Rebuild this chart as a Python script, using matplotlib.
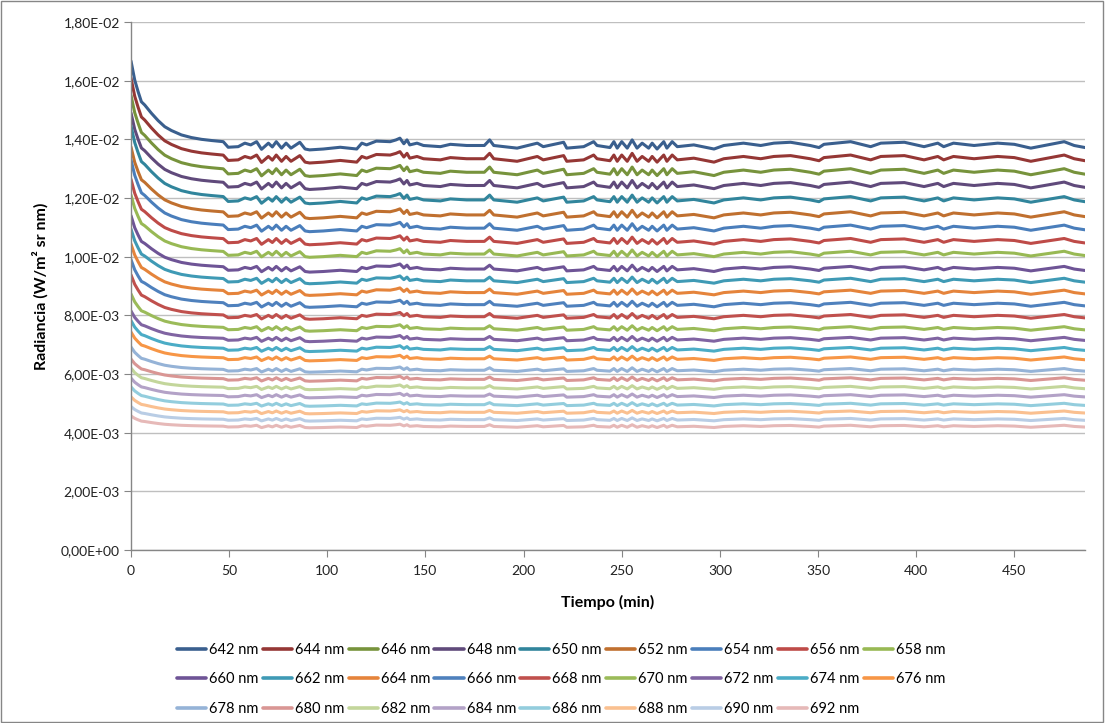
import numpy as np
import matplotlib
matplotlib.use("Agg")
import matplotlib.pyplot as plt
from matplotlib.ticker import FuncFormatter, MultipleLocator
from matplotlib.patches import Rectangle

# ---------------- data ----------------
WAVELENGTHS = [642, 644, 646, 648, 650, 652, 654, 656, 658, 660, 662, 664, 666,
               668, 670, 672, 674, 676, 678, 680, 682, 684, 686, 688, 690, 692]
LABELS = [f"{w} nm" for w in WAVELENGTHS]

# radiance at t = 0 (x1e-3 W/m2 sr nm)
START = [16.67, 16.09, 15.50, 14.90, 14.46, 13.74, 13.30, 12.64, 12.10, 11.40,
         10.94, 10.43, 9.90, 9.38, 8.73, 8.15, 7.82, 7.43, 6.92, 6.51, 6.20,
         5.86, 5.56, 5.22, 4.89, 4.57]
# radiance on the plateau (x1e-3 W/m2 sr nm)
PLATEAU = [13.75, 13.30, 12.84, 12.39, 11.90, 11.39, 10.94, 10.49, 10.06, 9.55,
           9.15, 8.75, 8.34, 7.93, 7.52, 7.16, 6.82, 6.50, 6.11, 5.80, 5.51,
           5.23, 4.94, 4.68, 4.43, 4.20]

# time (min) and the 642 nm trace (x1e-3)
TIME = [0, 1.9, 3.6, 5.3, 7, 10.4, 13.8, 17.2, 20.6, 25.7, 30.8, 35.9, 41, 47,
        49.5, 54.6, 58, 61, 64, 66.5, 70, 72, 74, 76.7, 79, 81.5, 84, 86, 88.7,
        91, 98, 106.6, 115, 117.6, 120, 125, 132, 135, 137, 139, 140.6, 142,
        145.7, 149, 157.6, 162.7, 171, 180, 182.7, 184.8, 196.7, 207, 210,
        220.4, 222, 230.6, 235.7, 237.4, 244, 246, 247.7, 250, 252.8, 255.3,
        257.8, 260.4, 263.7, 265.5, 268, 271.4, 273, 275.7, 278.3, 286.7, 297,
        302, 312, 320.8, 327.5, 336, 346, 350.5, 353, 366.6, 376.8, 382, 394,
        404, 411, 414, 419, 429.5, 441.5, 450, 458.4, 475.4, 480.5, 486]
REF_642 = [16.67, 16.02, 15.63, 15.28, 15.17, 14.89, 14.64, 14.43, 14.30, 14.15,
           14.06, 14.00, 13.96, 13.92, 13.73, 13.75, 13.87, 13.81, 13.92, 13.66,
           13.87, 13.74, 13.92, 13.70, 13.87, 13.70, 13.81, 13.90, 13.67, 13.64,
           13.67, 13.73, 13.67, 13.87, 13.81, 13.94, 13.92, 13.98, 14.04, 13.85,
           13.98, 13.81, 13.87, 13.79, 13.75, 13.83, 13.79, 13.79, 13.98, 13.79,
           13.70, 13.87, 13.75, 13.90, 13.70, 13.75, 13.92, 13.79, 13.72, 13.92,
           13.70, 13.92, 13.70, 13.98, 13.70, 13.87, 13.70, 13.87, 13.67, 13.92,
           13.70, 13.92, 13.75, 13.81, 13.67, 13.79, 13.87, 13.79, 13.87, 13.90,
           13.79, 13.72, 13.83, 13.92, 13.75, 13.87, 13.90, 13.75, 13.87, 13.75,
           13.87, 13.79, 13.87, 13.83, 13.70, 13.92, 13.79, 13.72]

COLORS = ["#3A5F8E", "#953735", "#77933C", "#604A7B", "#31859C", "#C0702F",
          "#4A7EBB", "#BE4B48", "#98B954", "#6E5496", "#3F9AB5", "#E5843B",
          "#4F81BD", "#C0504D", "#9BBB59", "#8064A2", "#4BACC6", "#F79646",
          "#95B3D7", "#D99694", "#C3D69B", "#B3A2C7", "#93CDDD", "#FAC090",
          "#B9CDE5", "#E6B9B8"]

# ---------------- figure ----------------
FONT = ["Lato", "DejaVu Sans"]
plt.rcParams["font.family"] = FONT

fig = plt.figure(figsize=(11.05, 7.23), dpi=100)
ax = fig.add_axes([131 / 1105, 1 - 550 / 723, (1085 - 131) / 1105, (550 - 22) / 723])

t = np.array(TIME)
ref = np.array(REF_642)
p0, s0 = PLATEAU[0], START[0]
decay = (ref - p0) / (s0 - p0)
early = t < 48

handles = []
for i, lab in enumerate(LABELS):
    p, s = PLATEAU[i], START[i]
    y = np.where(early, p + (s - p) * decay, ref * p / p0) * 1e-3
    h, = ax.plot(t, y, color=COLORS[i], lw=2.2, label=lab,
                 solid_joinstyle="round", solid_capstyle="round")
    handles.append(h)

ax.set_xlim(0, 486)
ax.set_ylim(0, 0.018)
ax.yaxis.set_major_locator(MultipleLocator(0.002))
ax.xaxis.set_major_locator(MultipleLocator(50))
ax.yaxis.set_major_formatter(FuncFormatter(lambda v, _: f"{v:.2E}".replace(".", ",")))
ax.grid(axis="y", color="#BFBFBF", lw=1.0)
ax.set_axisbelow(True)
for sp in ["top", "right"]:
    ax.spines[sp].set_visible(False)
for sp in ["left", "bottom"]:
    ax.spines[sp].set_color("#868686")
    ax.spines[sp].set_linewidth(1.0)
ax.tick_params(axis="y", direction="out", length=5, color="#868686",
               labelsize=10, labelcolor="#222222", pad=3)
ax.tick_params(axis="x", direction="out", length=5, color="#868686",
               labelsize=10, labelcolor="#222222", pad=6)

ax.set_xlabel("Tiempo (min)", fontsize=11.5, fontweight="bold", labelpad=13)
ax.set_ylabel("Radiancia (W/m² sr nm)", fontsize=11.5, fontweight="bold", labelpad=9)

# legend laid out row by row
ncol = 9
order = []
for c in range(ncol):
    for r in range(3):
        k = r * ncol + c
        if k < len(handles):
            order.append(k)
leg = fig.legend([handles[k] for k in order], [LABELS[k] for k in order],
                 loc="upper center", bbox_to_anchor=(0.508, 1 - 630 / 723), ncol=ncol,
                 frameon=False, prop={"family": FONT, "size": 10.5},
                 handlelength=2.0, handletextpad=0.2, columnspacing=0.3,
                 labelspacing=1.05)
for lh in leg.get_lines():
    lh.set_linewidth(2.6)

fig.patches.append(Rectangle((0.0005, 0.001), 0.998, 0.998, transform=fig.transFigure,
                             fill=False, edgecolor="#868686", lw=1.0))

fig.savefig("out.png", dpi=100)
